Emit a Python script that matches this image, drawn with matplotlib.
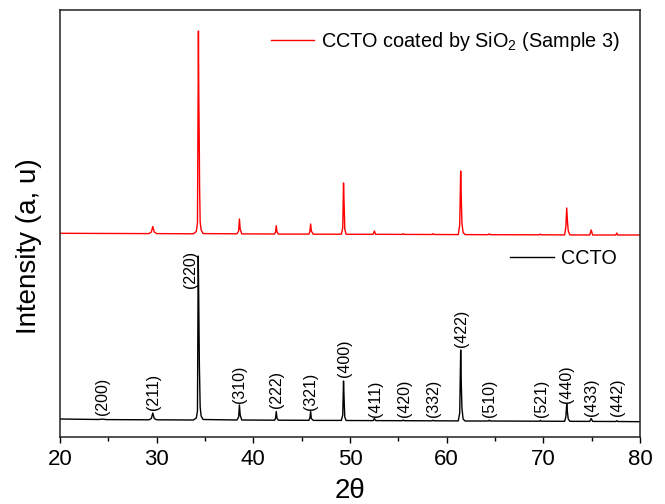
import matplotlib
matplotlib.use("Agg")
import matplotlib.pyplot as plt
from matplotlib.ticker import MultipleLocator
from matplotlib.lines import Line2D

plt.rcParams['font.family'] = ['Liberation Sans', 'DejaVu Sans']
plt.rcParams['mathtext.fontset'] = 'custom'
plt.rcParams['mathtext.rm'] = 'Liberation Sans'

# ---- data (intensity in arbitrary units) ----
ccto_2theta = [20.0, 24.0, 24.4, 24.8, 29.2, 29.45, 29.6, 29.75, 30.0,
               33.8, 34.1, 34.22, 34.3, 34.34, 34.38, 34.42, 34.5, 34.6, 34.8,
               38.3, 38.48, 38.56, 38.64, 38.8,
               42.2, 42.3, 42.37, 42.45, 42.6,
               45.75, 45.85, 45.93, 46.0, 46.2,
               49.1, 49.25, 49.33, 49.4, 49.46, 49.6,
               52.4, 52.52, 52.65, 55.4, 55.5, 55.6, 58.5, 58.6, 58.7,
               61.2, 61.35, 61.45, 61.52, 61.58, 61.7, 61.9,
               64.3, 64.4, 64.5, 69.6, 69.7, 69.8,
               72.2, 72.33, 72.42, 72.5, 72.58, 72.75,
               74.8, 74.95, 75.1, 77.5, 77.6, 77.7, 80.0]
ccto_int = [18.0, 17.5, 17.9, 17.4, 17.2, 18.5, 24.0, 18.5, 17.2,
            17.0, 19.0, 26.0, 181.0, 150.0, 108.0, 71.0, 30.0, 21.0, 17.5,
            17.0, 20.0, 32.0, 22.0, 17.0,
            16.8, 19.0, 25.5, 18.5, 16.8,
            16.7, 19.0, 25.5, 18.5, 16.6,
            16.6, 22.0, 56.0, 35.0, 20.0, 16.5,
            16.4, 18.5, 16.4, 16.3, 17.0, 16.3, 16.2, 16.8, 16.2,
            16.1, 24.0, 87.0, 50.0, 29.0, 18.0, 16.0,
            16.0, 16.8, 16.0, 15.8, 16.6, 15.8,
            15.7, 20.0, 33.0, 24.0, 18.0, 15.7,
            15.6, 18.5, 15.6, 15.5, 16.3, 15.5, 15.3]

coated_2theta = [20.0, 29.2, 29.45, 29.6, 29.75, 30.0,
                 33.8, 34.1, 34.22, 34.32, 34.36, 34.4, 34.44, 34.5, 34.6, 34.8,
                 38.3, 38.48, 38.56, 38.64, 38.8,
                 42.2, 42.3, 42.37, 42.45, 42.6,
                 45.75, 45.85, 45.93, 46.0, 46.2,
                 49.1, 49.25, 49.33, 49.4, 49.46, 49.6,
                 52.4, 52.52, 52.65, 55.4, 55.5, 55.6, 58.5, 58.6, 58.7,
                 61.2, 61.35, 61.45, 61.52, 61.58, 61.7, 61.9,
                 64.3, 64.4, 64.5, 69.6, 69.7, 69.8,
                 72.2, 72.33, 72.42, 72.5, 72.58, 72.75,
                 74.8, 74.95, 75.1, 77.5, 77.6, 77.7, 80.0]
coated_int = [203.7, 203.4, 205.0, 210.5, 205.0, 203.4,
              203.2, 205.5, 214.0, 406.0, 340.0, 302.0, 250.0, 215.0, 207.0, 203.4,
              203.2, 206.0, 218.0, 208.0, 203.1,
              203.0, 205.0, 211.3, 205.0, 202.9,
              202.9, 205.5, 213.0, 206.0, 202.8,
              202.8, 209.0, 254.0, 230.0, 208.0, 202.7,
              202.7, 206.0, 202.7, 202.6, 203.3, 202.6, 202.5, 203.3, 202.5,
              202.4, 212.0, 266.0, 235.0, 214.0, 204.5, 202.4,
              202.3, 203.2, 202.3, 202.2, 202.9, 202.2,
              202.1, 210.0, 229.0, 215.0, 206.0, 202.1,
              202.0, 207.0, 202.0, 202.0, 204.0, 202.0, 202.0]

hkl_labels = ['(200)', '(211)', '(220)', '(310)', '(222)', '(321)', '(400)', '(411)',
              '(420)', '(332)', '(422)', '(510)', '(521)', '(440)', '(433)', '(442)']
hkl_2theta = [24.4, 29.7, 33.45, 38.55, 42.35, 45.9, 49.4, 52.66,
              55.6, 58.6, 61.5, 64.4, 69.8, 72.4, 75.0, 77.66]
hkl_ypos = [22, 27, 149, 34.3, 29, 27, 60, 20.3,
            20, 20, 90.3, 20, 20, 34, 21, 21]

xticks = [20, 30, 40, 50, 60, 70, 80]

# ---- figure ----
fig = plt.figure(figsize=(6.65, 5.04), dpi=100)
ax = fig.add_axes([60/665, 1-437/504, 580/665, 427.5/504])

ax.plot(ccto_2theta, ccto_int, color='black', lw=1.0)
ax.plot(coated_2theta, coated_int, color='#ff0000', lw=1.0)

for lab, xx, yy in zip(hkl_labels, hkl_2theta, hkl_ypos):
    ax.text(xx, yy, lab, rotation=90, ha='center', va='bottom', fontsize=11.5)

ax.set_xlim(20, 80)
ax.set_ylim(0, 427.5)
ax.set_xticks(xticks)
ax.xaxis.set_minor_locator(MultipleLocator(5))
ax.set_yticks([])
ax.tick_params(axis='x', which='major', direction='out', length=4.5, width=1.0,
               labelsize=16, pad=4, top=False)
ax.tick_params(axis='x', which='minor', direction='out', length=3, width=1.0, top=False)
for s in ax.spines.values():
    s.set_linewidth(1.1)
    s.set_color('#222222')

ax.set_xlabel('2θ', fontsize=20)
ax.set_ylabel('Intensity (a, u)', fontsize=20)
ax.xaxis.set_label_coords(0.5, -0.095)
ax.yaxis.set_label_coords(-0.031, 0.447)

leg1 = ax.legend([Line2D([], [], color='#ff0000', lw=1.0)],
                 [r'CCTO coated by SiO$_\mathregular{2}$ (Sample 3)'],
                 loc='center left', bbox_to_anchor=(0.363, 0.926), frameon=False,
                 fontsize=14.3, borderpad=0, borderaxespad=0, handlelength=2.2,
                 handletextpad=0.35)
ax.add_artist(leg1)
ax.legend([Line2D([], [], color='black', lw=1.0)], ['CCTO'],
          loc='center left', bbox_to_anchor=(0.776, 0.418), frameon=False,
          fontsize=14.3, borderpad=0, borderaxespad=0, handlelength=2.2,
          handletextpad=0.35)

fig.savefig('out.png', dpi=100)
